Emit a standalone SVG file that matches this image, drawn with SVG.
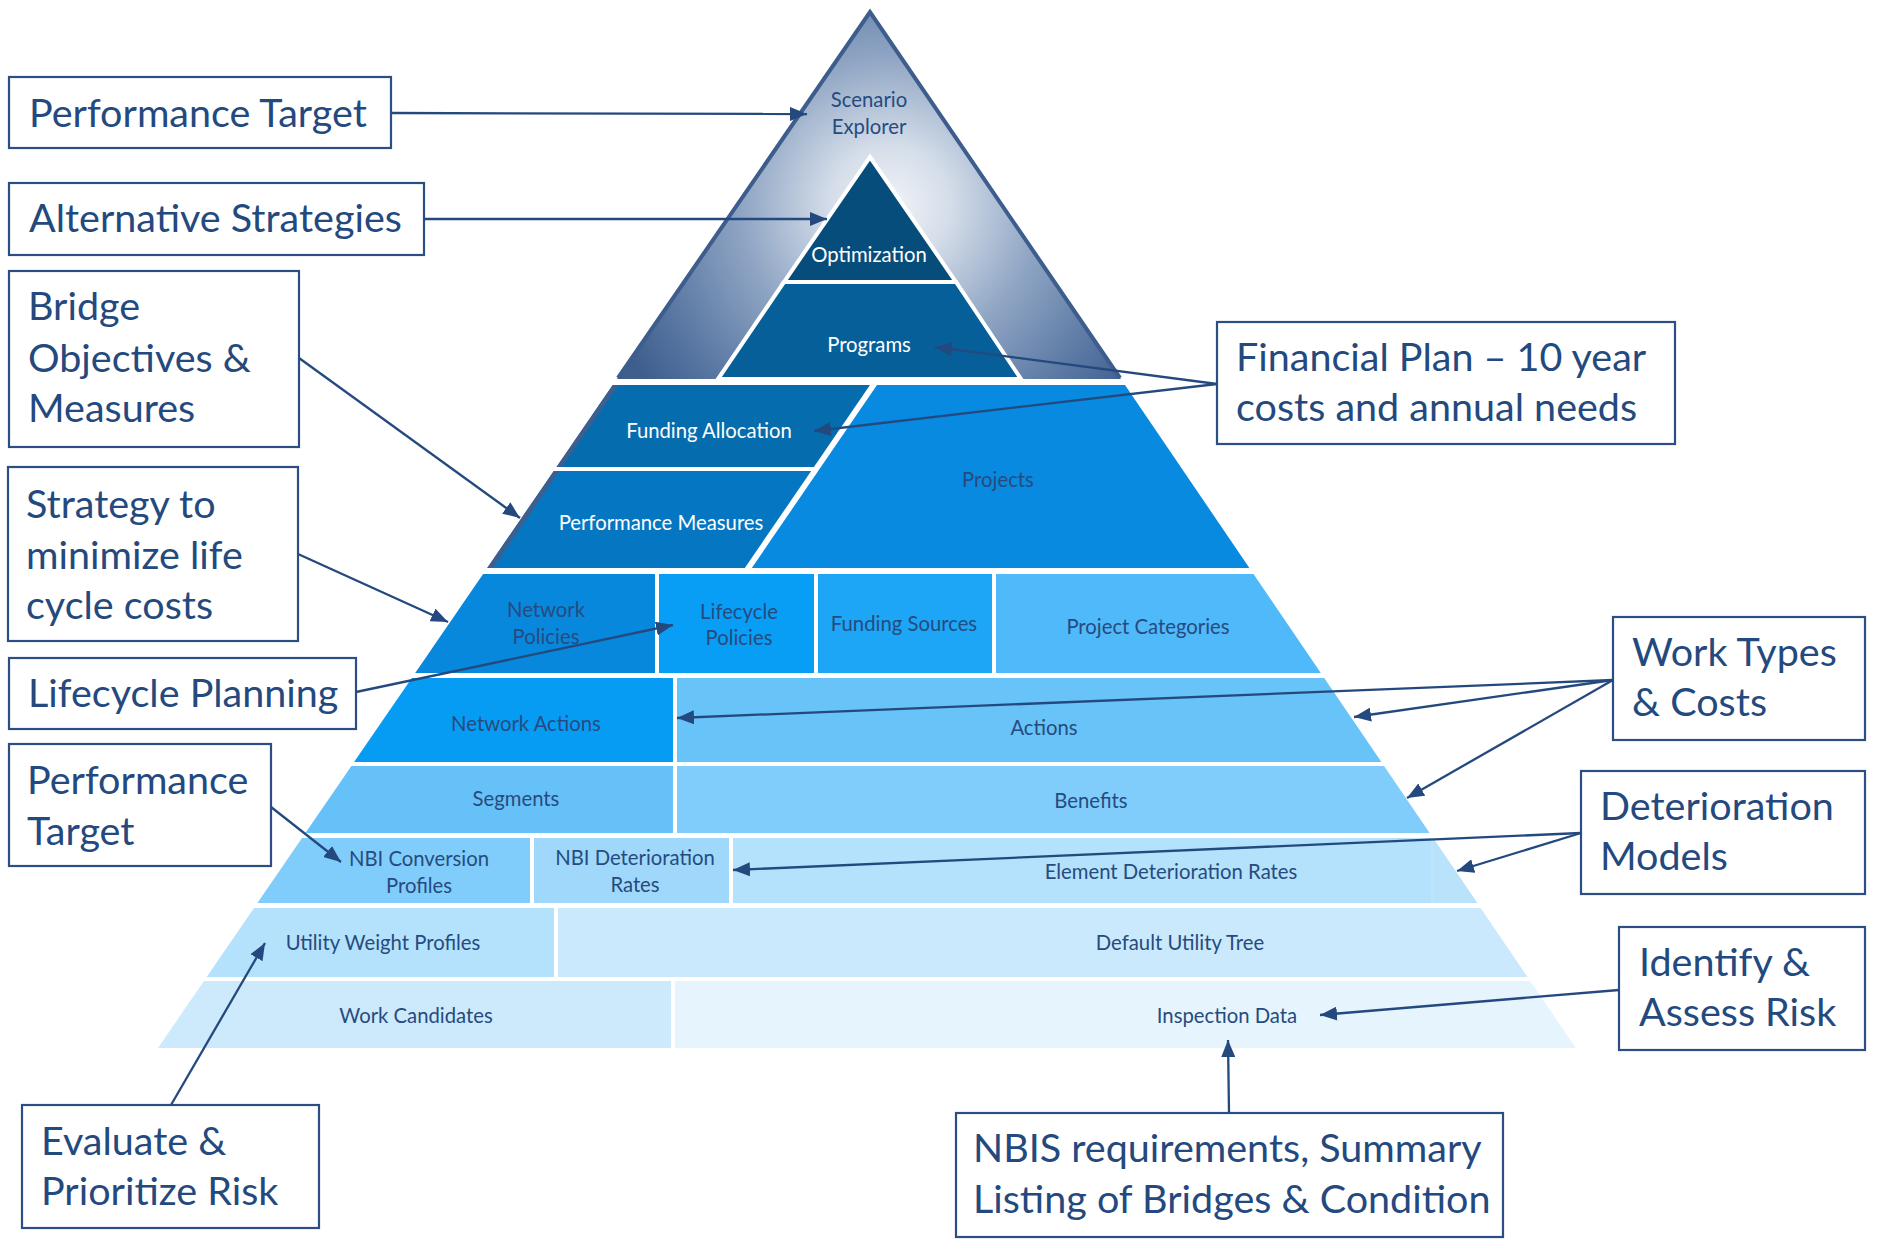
<svg xmlns="http://www.w3.org/2000/svg" width="1881" height="1241" viewBox="0 0 1881 1241">
<defs>
<radialGradient id="topGrad" gradientUnits="userSpaceOnUse" cx="890" cy="205" r="300">
<stop offset="0" stop-color="#f1f4f8"/>
<stop offset="0.2" stop-color="#d4dde9"/>
<stop offset="0.5" stop-color="#8ea4c3"/>
<stop offset="0.8" stop-color="#5a78a3"/>
<stop offset="1" stop-color="#3e5e8e"/>
</radialGradient>
<marker id="ah" markerUnits="userSpaceOnUse" markerWidth="18" markerHeight="14" refX="17" refY="7" orient="auto">
<path d="M0,0 L17,7 L0,14 z" fill="#24497e"/>
</marker>
</defs>
<style>
.lbl{font-family:Lato,"Open Sans","Liberation Sans",sans-serif;font-size:20.3px;fill:#264b7e;text-anchor:middle}
.wlbl{font-family:Lato,"Open Sans","Liberation Sans",sans-serif;font-size:20.3px;fill:#ffffff;text-anchor:middle}
.box{fill:#ffffff;stroke:#2b4f85;stroke-width:2.2}
.bt{font-family:Lato,"Open Sans","Liberation Sans",sans-serif;font-size:39.5px;fill:#24497e}
.conn{fill:none;stroke:#24497e;stroke-width:2.3;marker-end:url(#ah)}
.edge{fill:#3d5f8f}
</style>
<rect x="0" y="0" width="1881" height="1241" fill="#ffffff"/>

<g id="pyramid">
<g id="scenario-explorer">
<polygon points="870,10 617,379 1121,379" fill="url(#topGrad)"/>
<polyline points="618,378 870,12 1120,378" fill="none" stroke="#3d5d8d" stroke-width="4"/>
<text class="lbl" x="869" y="107">Scenario</text>
<text class="lbl" x="869" y="134">Explorer</text>
</g>
<g id="optimization">
<polygon points="870,157 956,282 784,282" fill="#064d7c" stroke="#ffffff" stroke-width="4" stroke-linejoin="miter"/>
<text class="wlbl" x="869" y="262">Optimization</text>
</g>
<g id="programs">
<polygon points="784,282 956,282 1021,379 718,379" fill="#065f99" stroke="#ffffff" stroke-width="4"/>
<text class="wlbl" x="869" y="352">Programs</text>
</g>
<g id="funding-allocation">
<polygon points="612.75,385 870,385 813.9,467 556.5,467" fill="#056cad"/>
<polygon class="edge" points="612.75,385 618.5,385 562,467 556.5,467"/>
<text class="wlbl" x="709" y="438">Funding Allocation</text>
</g>
<g id="performance-measures">
<polygon points="553.8,471 811.2,471 744.8,568 487.2,568" fill="#0577c2"/>
<polygon class="edge" points="553.8,471 559.5,471 493,568 487.2,568"/>
<text class="wlbl" x="661" y="530">Performance Measures</text>
</g>
<g id="projects">
<polygon points="877,385 1125,385 1249.4,568 751.8,568" fill="#088ae0"/>
<text class="lbl" x="998" y="487" fill="#2a5590">Projects</text>
</g>
<g id="network-policies">
<polygon points="483.1,574 655,574 655,673 415.2,673" fill="#0888dc"/>
<text class="lbl" x="546" y="617">Network</text>
<text class="lbl" x="546" y="644">Policies</text>
</g>
<g id="lifecycle-policies">
<rect x="659" y="574" width="155" height="99" fill="#089ef5"/>
<text class="lbl" x="739" y="619">Lifecycle</text>
<text class="lbl" x="739" y="645">Policies</text>
</g>
<g id="funding-sources">
<rect x="818" y="574" width="174" height="99" fill="#1da5f6"/>
<text class="lbl" x="904" y="631">Funding Sources</text>
</g>
<g id="project-categories">
<polygon points="996,574 1253.5,574 1320.8,673 996,673" fill="#4fb9f9"/>
<text class="lbl" x="1148" y="634">Project Categories</text>
</g>
<g id="network-actions">
<polygon points="411.8,678 673,678 673,762 354.1,762" fill="#069cf4"/>
<text class="lbl" x="526" y="731">Network Actions</text>
</g>
<g id="actions">
<polygon points="677,678 1324.2,678 1381.4,762 677,762" fill="#67c3f8"/>
<text class="lbl" x="1044" y="735">Actions</text>
</g>
<g id="segments">
<polygon points="351.4,766 673,766 673,833 305.4,833" fill="#66c1f8"/>
<text class="lbl" x="516" y="806">Segments</text>
</g>
<g id="benefits">
<polygon points="677,766 1384.1,766 1429.6,833 677,833" fill="#80cdfb"/>
<text class="lbl" x="1091" y="808">Benefits</text>
</g>
<g id="nbi-conversion-profiles">
<polygon points="302,838 530,838 530,903 257.4,903" fill="#80cdfb"/>
<text class="lbl" x="419" y="866">NBI Conversion</text>
<text class="lbl" x="419" y="893">Profiles</text>
</g>
<g id="nbi-deterioration-rates">
<rect x="534" y="838" width="195" height="65" fill="#9fd8fb"/>
<text class="lbl" x="635" y="865">NBI Deterioration</text>
<text class="lbl" x="635" y="892">Rates</text>
</g>
<g id="element-deterioration-rates">
<polygon points="733,838 1433,838 1477.2,903 733,903" fill="#b4e1fb"/>
<polygon points="1432,838 1433,838 1477.2,903 1432,903" fill="#b9e3fb"/>
<line x1="1432" y1="838" x2="1432" y2="903" stroke="#c4e7fc" stroke-width="1"/>
<text class="lbl" x="1171" y="879">Element Deterioration Rates</text>
</g>
<g id="utility-weight-profiles">
<polygon points="254,908 554,908 554,977 206.7,977" fill="#b4e1fb"/>
<text class="lbl" x="383" y="950">Utility Weight Profiles</text>
</g>
<g id="default-utility-tree">
<polygon points="558,908 1480.6,908 1527.6,977 558,977" fill="#cbe9fc"/>
<text class="lbl" x="1180" y="950">Default Utility Tree</text>
</g>
<g id="work-candidates">
<polygon points="203.9,981 671,981 671,1048 158,1048" fill="#cde9fc"/>
<text class="lbl" x="416" y="1023">Work Candidates</text>
</g>
<g id="inspection-data">
<polygon points="675,981 1530.3,981 1575.8,1048 675,1048" fill="#e5f4fd"/>
<text class="lbl" x="1227" y="1023">Inspection Data</text>
</g>
</g>

<g id="box-performance-target-1">
<rect class="box" x="9" y="77" width="382" height="71"/>
<text class="bt" x="29" y="127">Performance Target</text>
</g>
<g id="box-alternative-strategies">
<rect class="box" x="9" y="183" width="415" height="72"/>
<text class="bt" x="29" y="232">Alternative Strategies</text>
</g>
<g id="box-bridge-objectives">
<rect class="box" x="9" y="271" width="290" height="176"/>
<text class="bt" x="28" y="320">Bridge</text>
<text class="bt" x="28" y="372">Objectives &amp;</text>
<text class="bt" x="28" y="422">Measures</text>
</g>
<g id="box-strategy">
<rect class="box" x="8" y="467" width="290" height="174"/>
<text class="bt" x="26" y="518">Strategy to</text>
<text class="bt" x="26" y="569">minimize life</text>
<text class="bt" x="26" y="619">cycle costs</text>
</g>
<g id="box-lifecycle-planning">
<rect class="box" x="9" y="658" width="347" height="71"/>
<text class="bt" x="28" y="707">Lifecycle Planning</text>
</g>
<g id="box-performance-target-2">
<rect class="box" x="9" y="744" width="262" height="122"/>
<text class="bt" x="27" y="794">Performance</text>
<text class="bt" x="27" y="845">Target</text>
</g>
<g id="box-evaluate-risk">
<rect class="box" x="22" y="1105" width="297" height="123"/>
<text class="bt" x="41" y="1155">Evaluate &amp;</text>
<text class="bt" x="41" y="1205">Prioritize Risk</text>
</g>
<g id="box-nbis">
<rect class="box" x="956" y="1113" width="547" height="124"/>
<text class="bt" x="973" y="1162">NBIS requirements, Summary</text>
<text class="bt" x="973" y="1213">Listing of Bridges &amp; Condition</text>
</g>
<g id="box-financial-plan">
<rect class="box" x="1217" y="322" width="458" height="122"/>
<text class="bt" x="1236" y="371">Financial Plan – 10 year</text>
<text class="bt" x="1236" y="421">costs and annual needs</text>
</g>
<g id="box-work-types">
<rect class="box" x="1613" y="617" width="252" height="123"/>
<text class="bt" x="1632" y="666">Work Types</text>
<text class="bt" x="1632" y="716">&amp; Costs</text>
</g>
<g id="box-deterioration-models">
<rect class="box" x="1581" y="771" width="284" height="123"/>
<text class="bt" x="1600" y="820">Deterioration</text>
<text class="bt" x="1600" y="870">Models</text>
</g>
<g id="box-identify-risk">
<rect class="box" x="1619" y="927" width="246" height="123"/>
<text class="bt" x="1639" y="976">Identify &amp;</text>
<text class="bt" x="1639" y="1026">Assess Risk</text>
</g>

<g id="connectors">
<line class="conn" x1="392" y1="113" x2="807" y2="114"/>
<line class="conn" x1="424" y1="219" x2="827" y2="219"/>
<line class="conn" x1="299" y1="358" x2="520" y2="518"/>
<line class="conn" x1="298" y1="554" x2="448" y2="622"/>
<line class="conn" x1="356" y1="692" x2="673" y2="625"/>
<line class="conn" x1="271" y1="807" x2="341" y2="862"/>
<line class="conn" x1="171" y1="1105" x2="265" y2="943"/>
<line class="conn" x1="1229" y1="1113" x2="1228" y2="1040"/>
<line class="conn" x1="1619" y1="990" x2="1320" y2="1015"/>
<line class="conn" x1="1581" y1="833" x2="1457" y2="871"/>
<line class="conn" x1="1581" y1="833" x2="733" y2="870"/>
<line class="conn" x1="1613" y1="680" x2="1354" y2="717"/>
<line class="conn" x1="1613" y1="680" x2="1407" y2="798"/>
<line class="conn" x1="1613" y1="680" x2="677" y2="718"/>
<line class="conn" x1="1217" y1="384" x2="935" y2="347"/>
<line class="conn" x1="1217" y1="384" x2="814" y2="431"/>
</g>
</svg>
